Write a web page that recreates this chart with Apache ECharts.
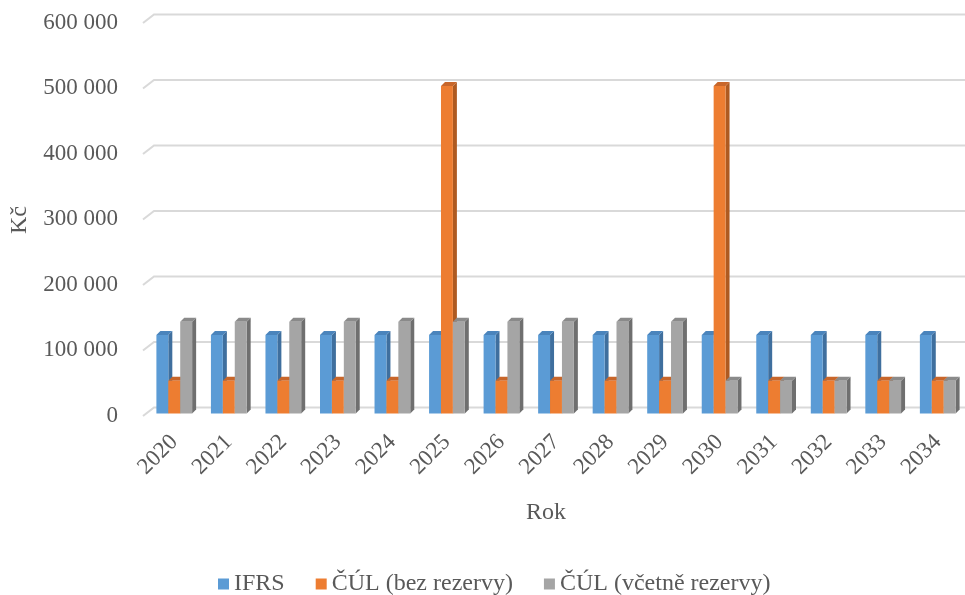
<!DOCTYPE html>
<html>
<head>
<meta charset="utf-8">
<script src="https://cdn.jsdelivr.net/npm/echarts@6/dist/echarts.min.js"></script>
<style>
  html, body { margin: 0; padding: 0; background: #ffffff; }
  #chart { width: 965px; height: 595px; }
</style>
</head>
<body>
<div id="chart"></div>
<script>
// Years on the category axis
const years = ['2020', '2021', '2022', '2023', '2024', '2025', '2026', '2027', '2028', '2029', '2030', '2031', '2032', '2033', '2034'];

// Annual amounts in Kč
const ifrs = [120000, 120000, 120000, 120000, 120000, 120000, 120000, 120000, 120000, 120000, 120000, 120000, 120000, 120000, 120000];
const culBezRezervy = [50000, 50000, 50000, 50000, 50000, 500000, 50000, 50000, 50000, 50000, 500000, 50000, 50000, 50000, 50000];
const culVcetneRezervy = [140000, 140000, 140000, 140000, 140000, 140000, 140000, 140000, 140000, 140000, 50000, 50000, 50000, 50000, 50000];

// Value axis ticks
const yTicks = [0, 100000, 200000, 300000, 400000, 500000, 600000];

const seriesNames = ['IFRS', 'ČÚL (bez rezervy)', 'ČÚL (včetně rezervy)'];
const seriesValues = [ifrs, culBezRezervy, culVcetneRezervy];

// front / side / top shades of each column
const shades = [
  { front: '#5B9BD5', side: '#3F6F9E', top: '#4A84BC' },
  { front: '#ED7D31', side: '#AE5A21', top: '#C8662A' },
  { front: '#A5A5A5', side: '#6F6F6F', top: '#8A8A8A' }
];

const FONT = "'Liberation Serif', 'Times New Roman', serif";
const TEXT = '#595959';
const DEPTH = 4;      // extrusion of the columns
const FLOOR = 6;      // columns stand slightly in front of the back wall

function fmt(v) {
  return String(v).replace(/\B(?=(\d{3})+(?!\d))/g, ' ');
}

function columnRenderer(k) {
  return function (params, api) {
    const cat = api.value(0);
    const val = api.value(1);
    const base = api.coord([cat, 0]);
    const top = api.coord([cat, val]);
    const band = api.size([1, 0])[0];
    const w = band * 0.2184;
    const x0 = base[0] - 1.5 * w + k * w;
    const yB = base[1] + FLOOR;
    const yT = top[1] + FLOOR;
    const c = shades[k];
    return {
      type: 'group',
      children: [
        {
          type: 'polygon',
          shape: { points: [[x0 + w, yT], [x0 + w + DEPTH, yT - DEPTH], [x0 + w + DEPTH, yB - DEPTH], [x0 + w, yB]] },
          style: { fill: c.side }
        },
        {
          type: 'polygon',
          shape: { points: [[x0, yT], [x0 + DEPTH, yT - DEPTH], [x0 + w + DEPTH, yT - DEPTH], [x0 + w, yT]] },
          style: { fill: c.top }
        },
        {
          type: 'rect',
          shape: { x: x0, y: yT, width: w, height: yB - yT },
          style: { fill: c.front }
        }
      ]
    };
  };
}

// back-wall grid lines with a short slanted floor edge on the left
function gridRenderer(params, api) {
  const y = api.coord([0, api.value(1)])[1];
  const cs = params.coordSys;
  return {
    type: 'polyline',
    shape: { points: [[cs.x - 4, y + 8.5], [cs.x + 7, y], [cs.x + cs.width, y]] },
    style: { stroke: '#D9D9D9', lineWidth: 2, fill: null }
  };
}

const series = [
  {
    type: 'custom',
    name: 'grid',
    silent: true,
    z: 1,
    renderItem: gridRenderer,
    encode: { x: 0, y: 1 },
    data: yTicks.map(v => [0, v])
  }
];

seriesNames.forEach((name, k) => {
  series.push({
    type: 'custom',
    name: name,
    z: 2 + k,
    itemStyle: { color: shades[k].front },
    renderItem: columnRenderer(k),
    encode: { x: 0, y: 1 },
    data: seriesValues[k].map((v, i) => [i, v])
  });
});

const chart = echarts.init(document.getElementById('chart'), null, { renderer: 'canvas' });
chart.setOption({
  backgroundColor: '#ffffff',
  animation: false,
  textStyle: { fontFamily: FONT },
  grid: { left: 146, top: 14.5, width: 824, height: 393, containLabel: false },
  legend: {
    data: seriesNames,
    left: 213,
    top: 567,
    icon: 'rect',
    itemWidth: 11,
    itemHeight: 11,
    itemGap: 31,
    textStyle: { fontFamily: FONT, fontSize: 24, color: TEXT, lineHeight: 24 }
  },
  xAxis: {
    type: 'category',
    data: years,
    name: 'Rok',
    nameLocation: 'middle',
    nameGap: 93,
    nameTextStyle: { fontFamily: FONT, fontSize: 24, color: TEXT, padding: [0, 20, 0, 0] },
    axisLine: { show: false },
    axisTick: { show: false },
    splitLine: { show: false },
    axisLabel: { rotate: 45, margin: 31, fontFamily: FONT, fontSize: 23, color: TEXT, interval: 0 }
  },
  yAxis: {
    type: 'value',
    min: 0,
    max: 600000,
    interval: 100000,
    name: 'Kč',
    nameLocation: 'middle',
    nameGap: 115,
    nameTextStyle: { fontFamily: FONT, fontSize: 24, color: TEXT, padding: [0, 18, 0, 0] },
    axisLine: { show: false },
    axisTick: { show: false },
    splitLine: { show: false },
    axisLabel: { margin: 29, fontFamily: FONT, fontSize: 23, color: TEXT, verticalAlign: 'top', lineHeight: 16, formatter: fmt }
  },
  series: series
});
</script>
</body>
</html>
